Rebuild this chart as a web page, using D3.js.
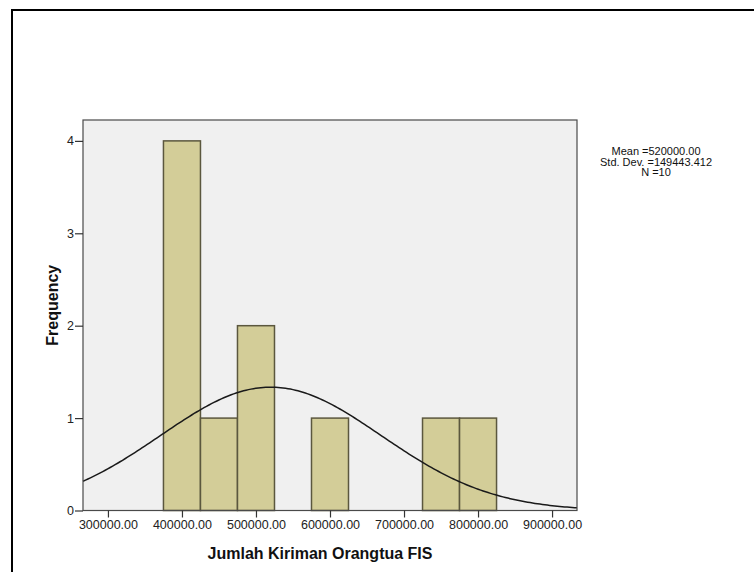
<!DOCTYPE html>
<html>
<head>
<meta charset="utf-8">
<script src="https://cdn.jsdelivr.net/npm/d3@7"></script>
<style>
  html, body { margin: 0; padding: 0; background: #ffffff; }
  svg { display: block; }
  text { font-family: "Liberation Sans", Arial, sans-serif; }
</style>
</head>
<body>
<svg id="chart" width="754" height="572"></svg>
<script>
// Histogram bins (centre of each 50000-wide bin) and their frequencies
const binCenters = [400000, 450000, 500000, 550000, 600000, 650000, 700000, 750000, 800000];
const frequencies = [4, 1, 2, 0, 1, 0, 0, 1, 1];
const binWidth = 50000;

// Summary statistics shown beside the chart and used for the normal curve
const statMean = 520000.00;
const statStdDev = 149443.412;
const statN = 10;

// Axis ticks
const xTicks = [300000, 400000, 500000, 600000, 700000, 800000, 900000];
const yTicks = [0, 1, 2, 3, 4];

const xTitle = "Jumlah Kiriman Orangtua FIS";
const yTitle = "Frequency";

const svg = d3.select("#chart");

// Outer frame
svg.append("rect")
  .attr("x", 12).attr("y", 10)
  .attr("width", 800).attr("height", 700)
  .attr("fill", "#ffffff")
  .attr("stroke", "#000000")
  .attr("stroke-width", 2);

const plot = { left: 83, right: 577, top: 120, bottom: 510.5 };

const x = d3.scaleLinear().domain([266300, 933700]).range([plot.left, plot.right]);
const y = d3.scaleLinear().domain([0, 4.226]).range([plot.bottom, plot.top]);

// Plot background
svg.append("rect")
  .attr("x", plot.left).attr("y", plot.top)
  .attr("width", plot.right - plot.left).attr("height", plot.bottom - plot.top)
  .attr("fill", "#f0f0f0");

// Bars
const bins = binCenters.map((c, i) => ({ c, f: frequencies[i] })).filter(d => d.f > 0);
svg.append("g").selectAll("rect")
  .data(bins)
  .join("rect")
  .attr("x", d => x(d.c - binWidth / 2))
  .attr("y", d => y(d.f))
  .attr("width", d => x(d.c + binWidth / 2) - x(d.c - binWidth / 2))
  .attr("height", d => y(0) - y(d.f))
  .attr("fill", "#d3cd98")
  .attr("stroke", "#5b573e")
  .attr("stroke-width", 1.5);

// Normal curve scaled to counts per bin
const scale = statN * binWidth / (statStdDev * Math.sqrt(2 * Math.PI));
const density = v => scale * Math.exp(-0.5 * Math.pow((v - statMean) / statStdDev, 2));
const curveX = d3.range(0, 201).map(i => x.domain()[0] + (x.domain()[1] - x.domain()[0]) * i / 200);
svg.append("path")
  .datum(curveX)
  .attr("fill", "none")
  .attr("stroke", "#1a1a1a")
  .attr("stroke-width", 1.5)
  .attr("d", d3.line().x(v => x(v)).y(v => y(density(v))));

// Plot border
svg.append("rect")
  .attr("x", plot.left).attr("y", plot.top)
  .attr("width", plot.right - plot.left).attr("height", plot.bottom - plot.top)
  .attr("fill", "none")
  .attr("stroke", "#4a4a4a")
  .attr("stroke-width", 1.2);

// X axis
const xAxis = svg.append("g")
  .attr("transform", `translate(0,${plot.bottom})`)
  .call(d3.axisBottom(x).tickValues(xTicks).tickSize(7).tickPadding(3)
    .tickFormat(d => d3.format(".2f")(d)));
xAxis.select(".domain").remove();
xAxis.selectAll("line").attr("stroke", "#333").attr("stroke-width", 1.2);
xAxis.selectAll("text").attr("font-size", "12.5px").attr("fill", "#222")
  .style("font-family", '"Liberation Sans", Arial, sans-serif');

// Y axis
const yAxis = svg.append("g")
  .attr("transform", `translate(${plot.left},0)`)
  .call(d3.axisLeft(y).tickValues(yTicks).tickSize(8).tickPadding(1)
    .tickFormat(d3.format("d")));
yAxis.select(".domain").remove();
yAxis.selectAll("line").attr("stroke", "#333").attr("stroke-width", 1.2);
yAxis.selectAll("text").attr("font-size", "12.5px").attr("fill", "#222")
  .style("font-family", '"Liberation Sans", Arial, sans-serif');

// Axis titles
svg.append("text")
  .attr("x", 320).attr("y", 559)
  .attr("text-anchor", "middle")
  .attr("font-size", "16px").attr("font-weight", "bold").attr("fill", "#111")
  .text(xTitle);

svg.append("text")
  .attr("transform", `translate(58,${(plot.top + plot.bottom) / 2 - 10}) rotate(-90)`)
  .attr("text-anchor", "middle")
  .attr("font-size", "16px").attr("font-weight", "bold").attr("fill", "#111")
  .text(yTitle);

// Statistics block
const statLines = [
  "Mean =" + statMean.toFixed(2),
  "Std. Dev. =" + statStdDev.toFixed(3),
  "N =" + statN
];
svg.append("g").selectAll("text")
  .data(statLines)
  .join("text")
  .attr("x", 656)
  .attr("y", (d, i) => 155 + i * 10.5)
  .attr("text-anchor", "middle")
  .attr("font-size", "11px").attr("fill", "#111")
  .text(d => d);
</script>
</body>
</html>
